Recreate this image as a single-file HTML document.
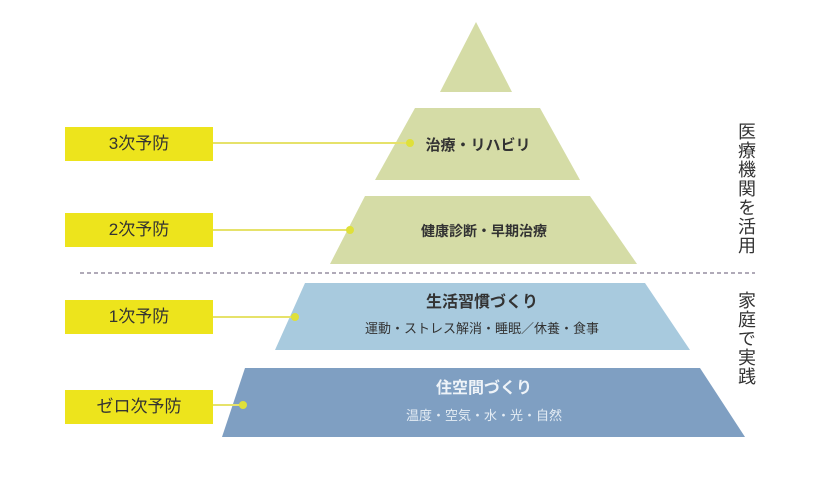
<!DOCTYPE html>
<html><head><meta charset="utf-8"><style>
html,body{margin:0;padding:0;background:#fff;}
body{width:816px;height:480px;position:relative;overflow:hidden;font-family:"Liberation Sans","Noto Sans CJK JP",sans-serif;}
.lab{position:absolute;left:65px;width:148px;height:34px;background:#ede41c;color:#333;font-size:17px;line-height:34px;text-align:center;}
.vt{position:absolute;left:733px;writing-mode:vertical-rl;font-size:18px;color:#333;letter-spacing:1px;}
</style></head><body>
<svg width="816" height="480" style="position:absolute;left:0;top:0">
<polygon points="476,22 440,92 512,92" fill="#d5dca6"/>
<polygon points="415,108 540,108 580,180 375,180" fill="#d5dca6"/>
<polygon points="365,196 590,196 637,264 330,264" fill="#d5dca6"/>
<line x1="80" y1="273" x2="755" y2="273" stroke="#b0aab8" stroke-width="2" stroke-dasharray="4,3"/>
<polygon points="305,283 645,283 690,350 275,350" fill="#a8cade"/>
<polygon points="245,368 700,368 745,437 222,437" fill="#7f9fc2"/>
<g stroke="#e6e26a" stroke-width="2">
<line x1="213" y1="143" x2="410" y2="143"/>
<line x1="213" y1="230" x2="350" y2="230"/>
<line x1="213" y1="317" x2="295" y2="317"/>
<line x1="213" y1="405" x2="243" y2="405"/>
</g>
<g fill="#dfe03a">
<circle cx="410" cy="143" r="4"/><circle cx="350" cy="230" r="4"/><circle cx="295" cy="317" r="4"/><circle cx="243" cy="405" r="4"/>
</g>
<g font-family="Liberation Sans, Noto Sans CJK JP, sans-serif" text-anchor="middle" font-weight="bold">
<text x="478" y="150" font-size="15" fill="#333">治療・リハビリ</text>
<text x="484" y="236" font-size="14" fill="#333">健康診断・早期治療</text>
<text x="482" y="307" font-size="16" fill="#333">生活習慣づくり</text>
<text x="482" y="333" font-size="13" fill="#333" font-weight="normal">運動・ストレス解消・睡眠／休養・食事</text>
<text x="484" y="393" font-size="16" fill="#eef3f8">住空間づくり</text>
<text x="484" y="420" font-size="13" fill="#e4ecf4" font-weight="normal">温度・空気・水・光・自然</text>
</g>
</svg>
<div class="lab" style="top:127px">3次予防</div>
<div class="lab" style="top:213px">2次予防</div>
<div class="lab" style="top:300px">1次予防</div>
<div class="lab" style="top:390px">ゼロ次予防</div>
<div class="vt" style="top:122px">医療機関を活用</div>
<div class="vt" style="top:291px">家庭で実践</div>
</body></html>
